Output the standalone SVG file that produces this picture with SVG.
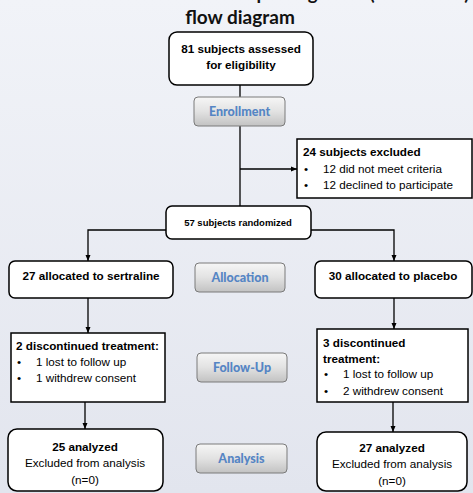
<svg xmlns="http://www.w3.org/2000/svg" width="473" height="493" viewBox="0 0 473 493">
<defs>
<linearGradient id="bg" x1="0" y1="0" x2="0" y2="1">
<stop offset="0" stop-color="#f1f3f8"/>
<stop offset="1" stop-color="#e2e5ee"/>
</linearGradient>
<linearGradient id="btn" x1="0" y1="0" x2="0" y2="1">
<stop offset="0" stop-color="#f6f6f6"/>
<stop offset="0.5" stop-color="#e2e2e2"/>
<stop offset="1" stop-color="#c2c2c2"/>
</linearGradient>
<marker id="arr" markerUnits="userSpaceOnUse" markerWidth="6" markerHeight="6" viewBox="0 0 6 6" refX="6" refY="3" orient="auto">
<path d="M0,0.5 L6,3 L0,5.5 Z" fill="#000"/>
</marker>
</defs>
<style>
.node{fill:#fff;stroke:#000;stroke-width:1.5}
.btn{fill:url(#btn);stroke:#7a7a7a;stroke-width:1}
.btxt{font-family:Lato,"Open Sans",sans-serif;font-weight:900;font-size:12.5px;fill:#5585c4;text-anchor:middle}
.b{font-family:"Liberation Sans",Arial,sans-serif;font-weight:bold;font-size:11.7px;fill:#000}
.r{font-family:"Liberation Sans",Arial,sans-serif;font-size:11.7px;fill:#000}
.c{text-anchor:middle}
.title{font-family:Lato,"Open Sans",sans-serif;font-weight:bold;font-size:19px;fill:#111;text-anchor:middle}
.ln{fill:none;stroke:#000;stroke-width:1.3}
</style>
<rect x="0" y="0" width="473" height="493" fill="url(#bg)"/>
<g id="title">
<text class="title" x="241" y="-0.5" textLength="457" lengthAdjust="spacingAndGlyphs">Consolidated Standards of Reporting Trials (CONSORT)</text>
<text class="title" x="240" y="24">flow diagram</text>
</g>
<g id="connectors">
<path class="ln" d="M240,85 V97"/>
<path class="ln" d="M240,126 V206"/>
<path class="ln" d="M240,169 H297" marker-end="url(#arr)"/>
<path class="ln" d="M166,230 H88 V261" marker-end="url(#arr)"/>
<path class="ln" d="M311,230 H394 V261" marker-end="url(#arr)"/>
<path class="ln" d="M88,298 V333" marker-end="url(#arr)"/>
<path class="ln" d="M394,298 V329" marker-end="url(#arr)"/>
<path class="ln" d="M85,402 V429" marker-end="url(#arr)"/>
<path class="ln" d="M393,402 V432" marker-end="url(#arr)"/>
</g>
<g id="assessed">
<rect class="node" x="169" y="32" width="144" height="53" rx="8"/>
<text class="b c" x="241" y="53">81 subjects assessed</text>
<text class="b c" x="241" y="69">for eligibility</text>
</g>
<g id="enrollment">
<rect class="btn" x="194" y="97" width="91" height="29" rx="4"/>
<text class="btxt" x="239.5" y="116">Enrollment</text>
</g>
<g id="excluded">
<rect class="node" x="297" y="139" width="175" height="59"/>
<text class="b" x="303" y="156">24 subjects excluded</text>
<text class="r" x="304" y="173">•</text>
<text class="r" x="323" y="173">12 did not meet criteria</text>
<text class="r" x="304" y="189">•</text>
<text class="r" x="323" y="189">12 declined to participate</text>
</g>
<g id="randomized">
<rect class="node" x="166" y="206" width="145" height="33" rx="6"/>
<text class="b c" x="238" y="226" style="font-size:9.5px">57 subjects randomized</text>
</g>
<g id="sertraline">
<rect class="node" x="9" y="261" width="164" height="37" rx="6"/>
<text class="b c" x="91" y="280">27 allocated to sertraline</text>
</g>
<g id="allocation">
<rect class="btn" x="195" y="263" width="90" height="29" rx="4"/>
<text class="btxt" x="240" y="282">Allocation</text>
</g>
<g id="placebo">
<rect class="node" x="315" y="261" width="157" height="37" rx="6"/>
<text class="b c" x="393" y="280">30 allocated to placebo</text>
</g>
<g id="disc-sertraline">
<rect class="node" x="11" y="333" width="154" height="69"/>
<text class="b" x="16" y="350">2 discontinued treatment:</text>
<text class="r" x="17" y="366">•</text>
<text class="r" x="36" y="366">1 lost to follow up</text>
<text class="r" x="17" y="382">•</text>
<text class="r" x="36" y="382">1 withdrew consent</text>
</g>
<g id="followup">
<rect class="btn" x="197" y="353" width="90" height="29" rx="4"/>
<text class="btxt" x="242" y="372">Follow-Up</text>
</g>
<g id="disc-placebo">
<rect class="node" x="317" y="329" width="151" height="73"/>
<text class="b" x="323" y="347">3 discontinued</text>
<text class="b" x="323" y="363">treatment:</text>
<text class="r" x="324" y="378">•</text>
<text class="r" x="343" y="378">1 lost to follow up</text>
<text class="r" x="324" y="395">•</text>
<text class="r" x="343" y="395">2 withdrew consent</text>
</g>
<g id="analyzed-sertraline">
<rect class="node" x="8" y="429" width="155" height="62" rx="9"/>
<text class="b c" x="85" y="451">25 analyzed</text>
<text class="r c" x="85" y="467">Excluded from analysis</text>
<text class="r c" x="85" y="484">(n=0)</text>
</g>
<g id="analysis">
<rect class="btn" x="196" y="444" width="91" height="29" rx="4"/>
<text class="btxt" x="241.5" y="463">Analysis</text>
</g>
<g id="analyzed-placebo">
<rect class="node" x="317" y="432" width="150" height="59" rx="9"/>
<text class="b c" x="392" y="452">27 analyzed</text>
<text class="r c" x="392" y="468">Excluded from analysis</text>
<text class="r c" x="392" y="485">(n=0)</text>
</g>
</svg>
